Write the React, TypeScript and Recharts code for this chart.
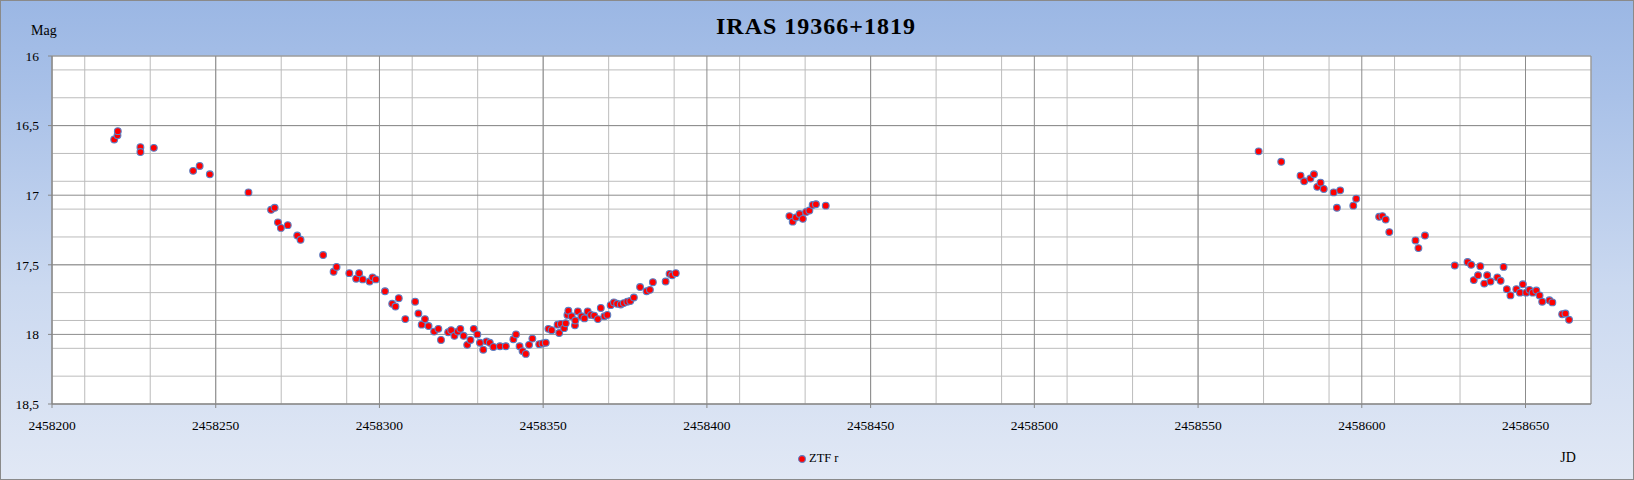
import React from 'react';
import { ScatterChart, Scatter, XAxis, YAxis, CartesianGrid, Legend, Customized } from 'recharts';

const seriesName = 'ZTF r';
const titleText = 'IRAS 19366+1819';

const jdValues = [
  2458219.0, 2458220.0, 2458220.1, 2458227.0, 2458227.0, 2458231.1, 2458243.1, 2458245.1, 2458248.2, 2458260.0,
  2458266.9, 2458268.0, 2458269.0, 2458269.9, 2458272.0, 2458274.9, 2458275.9, 2458282.8, 2458286.0, 2458286.9,
  2458290.8, 2458292.9, 2458293.8, 2458294.9, 2458297.0, 2458297.9, 2458298.9, 2458301.7, 2458303.9, 2458304.9,
  2458305.9, 2458307.9, 2458310.9, 2458311.9, 2458312.9, 2458313.9, 2458315.0, 2458316.7, 2458318.0, 2458318.8,
  2458321.0, 2458321.9, 2458322.9, 2458323.9, 2458324.7, 2458325.7, 2458326.8, 2458327.8, 2458328.8, 2458329.9,
  2458330.7, 2458331.7, 2458332.7, 2458333.7, 2458334.8, 2458336.8, 2458338.6, 2458340.9, 2458341.7, 2458342.8,
  2458343.7, 2458344.7, 2458345.7, 2458346.7, 2458348.8, 2458349.8, 2458350.8, 2458351.6, 2458352.6, 2458354.4,
  2458354.9, 2458355.4, 2458356.4, 2458356.9, 2458357.4, 2458357.7, 2458358.7, 2458359.7, 2458359.8, 2458360.6,
  2458361.7, 2458362.6, 2458363.6, 2458364.6, 2458365.6, 2458366.7, 2458367.6, 2458368.7, 2458369.6, 2458370.6,
  2458371.6, 2458372.6, 2458373.7, 2458374.6, 2458375.7, 2458376.6, 2458377.7, 2458379.6, 2458381.6, 2458382.6,
  2458383.5, 2458387.4, 2458388.6, 2458389.4, 2458390.5,
  2458425.2, 2458426.2, 2458427.2, 2458428.3, 2458429.3, 2458430.3, 2458431.3, 2458432.3, 2458433.3, 2458436.3,
  2458568.5, 2458575.4, 2458581.3, 2458582.4, 2458584.3, 2458585.4, 2458586.4, 2458587.4, 2458588.4, 2458591.4,
  2458592.4, 2458593.4, 2458597.4, 2458598.3, 2458605.3, 2458606.3, 2458607.3, 2458608.4, 2458616.4, 2458619.3,
  2458617.3, 2458628.4, 2458632.3, 2458633.4, 2458636.2, 2458634.2, 2458635.5, 2458637.4, 2458638.3, 2458639.3,
  2458641.4, 2458642.4, 2458643.3, 2458644.3, 2458645.4, 2458647.2, 2458648.3, 2458649.2, 2458650.2, 2458651.2,
  2458652.2, 2458653.3, 2458654.3, 2458655.1, 2458657.3, 2458658.2, 2458661.2, 2458662.2, 2458663.3,
];

const magValues = [
  16.60, 16.57, 16.54, 16.655, 16.69, 16.66, 16.825, 16.79, 16.85, 16.98,
  17.105, 17.09, 17.195, 17.235, 17.215, 17.29, 17.32, 17.43, 17.55, 17.515,
  17.56, 17.60, 17.56, 17.605, 17.62, 17.59, 17.605, 17.69, 17.78, 17.80,
  17.74, 17.89, 17.765, 17.85, 17.93, 17.89, 17.94, 17.98, 17.96, 18.04,
  17.985, 17.97, 18.01, 17.98, 17.96, 18.01, 18.075, 18.04, 17.96, 18.00,
  18.06, 18.11, 18.05, 18.06, 18.09, 18.085, 18.085, 18.035, 18.00, 18.085,
  18.12, 18.14, 18.075, 18.03, 18.07, 18.065, 18.06, 17.96, 17.97, 17.93,
  17.99, 17.925, 17.955, 17.92, 17.86, 17.83, 17.87, 17.935, 17.90, 17.835,
  17.87, 17.885, 17.835, 17.86, 17.865, 17.89, 17.81, 17.87, 17.86, 17.79,
  17.77, 17.78, 17.785, 17.775, 17.765, 17.76, 17.735, 17.66, 17.69, 17.68,
  17.625, 17.62, 17.565, 17.575, 17.56,
  17.15, 17.19, 17.16, 17.135, 17.17, 17.12, 17.11, 17.07, 17.065, 17.075,
  16.685, 16.76, 16.86, 16.90, 16.88, 16.85, 16.94, 16.91, 16.955, 16.98,
  17.09, 16.965, 17.075, 17.025, 17.155, 17.15, 17.175, 17.265, 17.325, 17.29,
  17.38, 17.505, 17.48, 17.50, 17.51, 17.61, 17.575, 17.635, 17.575, 17.62,
  17.59, 17.615, 17.515, 17.675, 17.72, 17.675, 17.70, 17.64, 17.70, 17.68,
  17.70, 17.685, 17.72, 17.765, 17.755, 17.77, 17.855, 17.85, 17.895,
];

const xDomain = [2458200, 2458670];
const yDomain = [16, 18.5];
const xMajorTicks = [2458200, 2458250, 2458300, 2458350, 2458400, 2458450, 2458500, 2458550, 2458600, 2458650];
const xMinorTicks = [
  2458200, 2458210, 2458220, 2458230, 2458240, 2458250, 2458260, 2458270, 2458280, 2458290,
  2458300, 2458310, 2458320, 2458330, 2458340, 2458350, 2458360, 2458370, 2458380, 2458390,
  2458400, 2458410, 2458420, 2458430, 2458440, 2458450, 2458460, 2458470, 2458480, 2458490,
  2458500, 2458510, 2458520, 2458530, 2458540, 2458550, 2458560, 2458570, 2458580, 2458590,
  2458600, 2458610, 2458620, 2458630, 2458640, 2458650, 2458660, 2458670,
];
const yMajorTicks = [16, 16.5, 17, 17.5, 18, 18.5];
const yMinorTicks = [
  16, 16.1, 16.2, 16.3, 16.4, 16.5, 16.6, 16.7, 16.8, 16.9,
  17, 17.1, 17.2, 17.3, 17.4, 17.5, 17.6, 17.7, 17.8, 17.9,
  18, 18.1, 18.2, 18.3, 18.4, 18.5,
];

const data = jdValues.map((jd, i) => ({ jd, mag: magValues[i] }));

const FONT = '"Liberation Serif", "Times New Roman", serif';
const MARKER_FILL = '#ff0000';
const MARKER_STROKE = '#5b7fc4';

const Marker = (props: any) => {
  const { cx, cy } = props;
  if (cx == null || cy == null) return null;
  return <circle cx={cx} cy={cy} r={3.4} fill={MARKER_FILL} stroke={MARKER_STROKE} strokeWidth={1.1} />;
};

const LegendContent = () => (
  <div style={{ display: 'flex', alignItems: 'center', fontFamily: FONT, fontSize: 12.5, color: '#000', whiteSpace: 'nowrap' }}>
    <svg width={10} height={10} style={{ marginRight: 2 }}>
      <circle cx={5} cy={5} r={3.4} fill={MARKER_FILL} stroke={MARKER_STROKE} strokeWidth={1.1} />
    </svg>
    <span>{seriesName}</span>
  </div>
);

const Texts = () => (
  <g>
    <text x={816} y={33.5} textAnchor="middle" fontFamily={FONT} fontWeight="bold" fontSize={24} letterSpacing={1} fill="#000">
      {titleText}
    </text>
    <text x={31} y={35} fontFamily={FONT} fontSize={14} fill="#000">Mag</text>
    <text x={1568} y={462} textAnchor="middle" fontFamily={FONT} fontSize={14} fill="#000">JD</text>
  </g>
);

export default function App() {
  return (
    <div style={{ position: 'absolute', left: 0, top: 0, width: 1634, height: 480 }}>
      <div
        style={{
          position: 'absolute', left: 0, top: 0, width: 1634, height: 480, boxSizing: 'border-box',
          border: '1px solid #8a8a8a',
          background: 'linear-gradient(to bottom, #9bb7e4 0%, #a9c1e8 20%, #cbd9f0 60%, #e1e8f5 100%)',
        }}
      />
      <div style={{ position: 'absolute', left: 0, top: 0 }}>
        <ScatterChart width={1634} height={480} margin={{ top: 56, right: 43, left: 0, bottom: 46 }}>
          <XAxis xAxisId="minor" dataKey="jd" type="number" domain={xDomain} ticks={xMinorTicks} hide allowDataOverflow />
          <YAxis yAxisId="minor" dataKey="mag" type="number" domain={yDomain} ticks={yMinorTicks} reversed hide allowDataOverflow />
          <XAxis
            dataKey="jd"
            type="number"
            domain={xDomain}
            ticks={xMajorTicks}
            interval={0}
            height={30}
            allowDataOverflow
            tickSize={4}
            tickMargin={12}
            stroke="#868686"
            tick={{ fontFamily: FONT, fontSize: 13.5, fill: '#000' }}
          />
          <YAxis
            dataKey="mag"
            type="number"
            domain={yDomain}
            ticks={yMajorTicks}
            interval={0}
            reversed
            width={52}
            allowDataOverflow
            tickSize={4}
            tickMargin={9}
            stroke="#868686"
            tickFormatter={(v: number) => String(v).replace('.', ',')}
            tick={{ fontFamily: FONT, fontSize: 13.5, fill: '#000' }}
          />
          <CartesianGrid xAxisId="minor" yAxisId="minor" stroke="#bcbcbc" fill="#ffffff" strokeWidth={1} />
          <CartesianGrid stroke="#8c8c8c" strokeWidth={1} />
          <Scatter name={seriesName} data={data} isAnimationActive={false} shape={Marker} fill={MARKER_FILL} />
          <Legend
            layout="vertical"
            align="center"
            verticalAlign="middle"
            content={LegendContent}
            wrapperStyle={{ left: 797, top: 451, width: 60, height: 15 }}
          />
          <Customized component={Texts} />
        </ScatterChart>
      </div>
    </div>
  );
}
